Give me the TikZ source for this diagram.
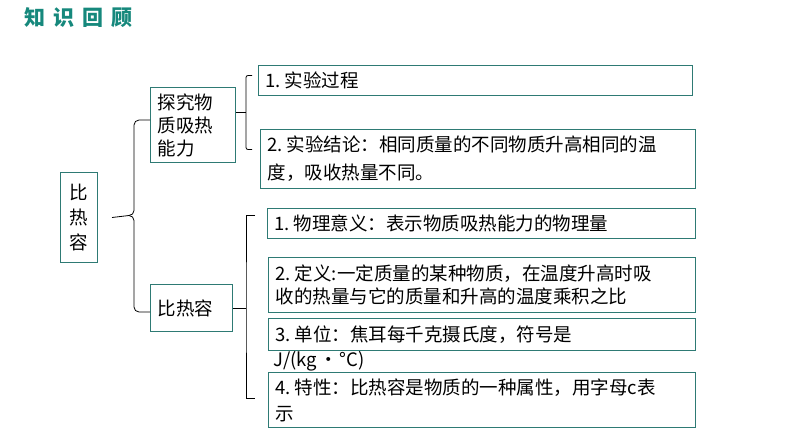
\documentclass[tikz,border=0pt]{standalone}
\usepackage{fontspec}
\setmainfont{Noto Sans CJK SC}
\usepackage{tikz}
\usetikzlibrary{positioning, calc}

\definecolor{titleteal}{RGB}{22,136,124}
\definecolor{boxline}{RGB}{46,122,116}

\newcommand{\num}[1]{#1.\hspace{4pt}}

\tikzset{
    box/.style={draw=boxline, line width=1pt, anchor=north west, inner xsep=7pt, inner ysep=0pt, align=left},
    wire/.style={draw=black, line width=0.8pt},
    headline/.style={text=titleteal, anchor=west, inner sep=0pt, font=\fontsize{21}{21}\selectfont\bfseries}
}

\begin{document}
\begin{tikzpicture}[x=1pt, y=-1pt]

    \useasboundingbox (0,0) rectangle (794,447);

    % Title
    \node[headline] (title) at (24,18) {知\hspace{8pt}识\hspace{8pt}回\hspace{8pt}顾};

    % Left column
    \node[box, text width=23pt, minimum height=90pt, align=center, font=\fontsize{18.5}{25}\selectfont] (root) at (60,172) {比\\热\\容};
    \node[box, text width=71pt, minimum height=75pt, font=\fontsize{18.5}{23}\selectfont] (q) at (150,87) {探究物\\质吸热\\能力};
    \node[box, text width=68pt, minimum height=47pt, font=\fontsize{18.5}{23}\selectfont] (c) at (150,284) {比热容};

    % Right column, upper group
    \node[box, text width=420pt, minimum height=30pt, font=\fontsize{18.5}{25}\selectfont] (r1) at (258,65) {\num{1}实验过程};
    \node[box, text width=421pt, minimum height=59pt, font=\fontsize{18.5}{28}\selectfont] (r2) at (260,129) {\num{2}实验结论：相同质量的不同物质升高相同的温\\度，吸收热量不同。};

    % Right column, lower group
    \node[box, text width=414pt, minimum height=30pt, font=\fontsize{18.5}{25}\selectfont] (b1) at (267,208) {\num{1}物理意义：表示物质吸热能力的物理量};
    \node[box, text width=413pt, minimum height=55pt, font=\fontsize{18.5}{23}\selectfont] (b2) at (268,257) {\num{2}定义:一定质量的某种物质，在温度升高时吸\\收的热量与它的质量和升高的温度乘积之比};
    \node[box, text width=413pt, minimum height=32pt, font=\fontsize{18.5}{25}\selectfont] (b3) at (268,318) {\num{3}单位：焦耳每千克摄氏度，符号是};
    \node[anchor=west, inner sep=0pt, font=\fontsize{18.5}{25}\selectfont] (unit) at (273,361) {J/(kg\hspace{2pt}•\hspace{2pt}°C)};
    \node[box, text width=413pt, minimum height=55pt, font=\fontsize{18.5}{26}\selectfont] (b4) at (268,372) {\num{4}特性：比热容是物质的一种属性，用字母c表\\示};

    % Brace from root
    \coordinate (rstart) at ([xshift=14]root.east);
    \coordinate (rtip) at ([xshift=31,yshift=2]root.east);
    \coordinate (rbar) at ([xshift=36]root.east);
    \draw[wire] (rstart) -- (rtip);
    \draw[wire, rounded corners=5] ([yshift=5]q.west) -| (rbar |- rtip) -- (rtip);
    \draw[wire, rounded corners=5] ([yshift=-4]c.west) -| (rbar |- rtip) -- (rtip);

    % Bracket from q
    \coordinate (qa) at ([xshift=-6,yshift=5]r1.west);
    \coordinate (qb) at ([xshift=-8,yshift=9.5]r2.west);
    \coordinate (qm) at ([xshift=10,yshift=12.5]q.east);
    \draw[wire] ([yshift=12.5]q.east) -- (qm);
    \draw[wire, rounded corners=2] (qa) -| (qm) |- (qb);

    % Bracket from c
    \coordinate (ca) at ([xshift=-12,yshift=8]b1.west);
    \coordinate (cb) at ([xshift=-13,yshift=1.5]b4.west);
    \coordinate (cm) at ([xshift=13]c.east);
    \draw[wire] (c.east) -- (cm);
    \draw[wire] (ca) -| (cm) |- (cb);

\end{tikzpicture}
\end{document}
